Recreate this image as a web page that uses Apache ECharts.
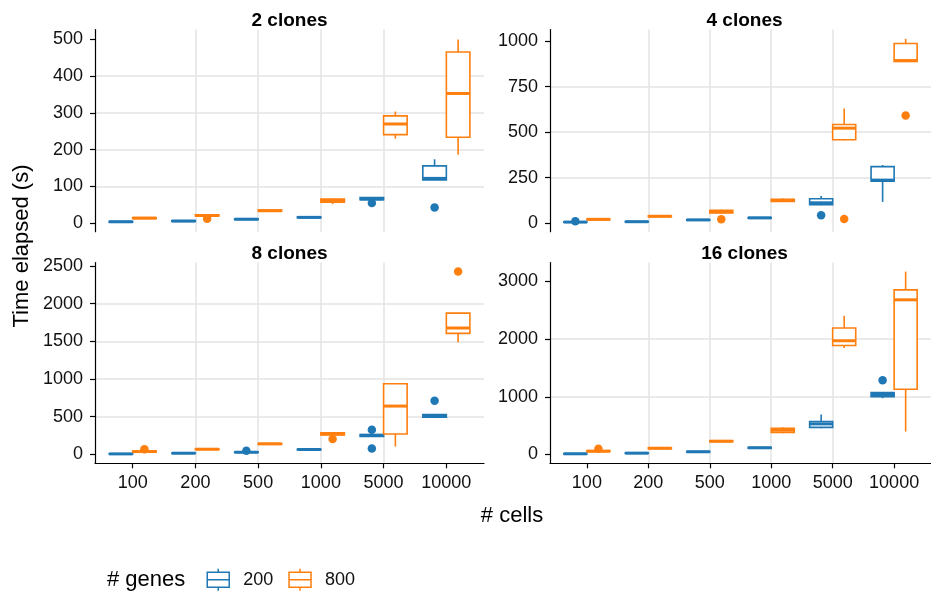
<!DOCTYPE html>
<html>
<head>
<meta charset="utf-8">
<title>Time elapsed by number of cells</title>
<script src="https://cdn.jsdelivr.net/npm/echarts@6/dist/echarts.min.js"></script>
<style>
  html, body { margin: 0; padding: 0; background: #fff; }
  #chart { width: 931px; height: 596px; }
</style>
</head>
<body>
<div id="chart"></div>
<script>
// Categories on the x axis (# cells)
const cells = ['100', '200', '500', '1000', '5000', '10000'];
const panelTitles = ['2 clones', '4 clones', '8 clones', '16 clones'];
const geneGroups = ['200', '800'];

// Box statistics per cell count: [lower whisker, Q1, median, Q3, upper whisker]
// Outliers: [cell index, value]

// 2 clones
const c2_g200 = [[2, 3, 4, 5, 6], [4, 5, 6, 7, 8], [9, 10, 11, 12, 13], [14, 15, 16, 17, 18], [62, 64, 66, 70, 71], [118, 118, 122, 156, 174]];
const c2_g800 = [[12, 13, 14, 15, 16], [18, 20, 21, 23, 24], [32, 33, 34, 36, 37], [52, 57, 62, 66, 67], [230, 241, 270, 292, 304], [186, 234, 353, 466, 500]];
const c2_g200_out = [[4, 55], [5, 43]];
const c2_g800_out = [[1, 12]];

// 4 clones
const c4_g200 = [[3, 4, 5, 6, 7], [5, 6, 7, 8, 9], [14, 15, 17, 18, 19], [25, 27, 28, 30, 31], [98, 100, 111, 133, 148], [116, 230, 236, 310, 319]];
const c4_g800 = [[17, 18, 20, 21, 22], [33, 35, 37, 39, 40], [50, 55, 62, 70, 73], [115, 118, 124, 130, 135], [456, 458, 522, 542, 630], [887, 889, 894, 988, 1014]];
const c4_g200_out = [[0, 9], [4, 43]];
const c4_g800_out = [[2, 20], [4, 22], [5, 592]];

// 8 clones
const c8_g200 = [[2, 3, 4, 5, 6], [10, 11, 13, 14, 15], [20, 23, 26, 29, 31], [55, 58, 62, 66, 68], [228, 236, 250, 262, 268], [480, 490, 505, 525, 535]];
const c8_g800 = [[25, 30, 35, 42, 48], [58, 62, 66, 70, 73], [128, 133, 137, 142, 146], [240, 255, 270, 285, 290], [101, 269, 639, 935, 935], [1486, 1605, 1676, 1874, 1874]];
const c8_g200_out = [[2, 45], [4, 326], [4, 75], [5, 710]];
const c8_g800_out = [[0, 66], [3, 203], [5, 2425]];

// 16 clones
const c16_g200 = [[6, 9, 12, 15, 18], [17, 20, 23, 26, 29], [38, 42, 47, 52, 56], [105, 110, 116, 122, 127], [455, 470, 531, 571, 692], [975, 1000, 1040, 1073, 1075]];
const c16_g800 = [[40, 50, 57, 66, 72], [95, 100, 109, 116, 122], [215, 222, 230, 238, 244], [368, 380, 420, 455, 470], [1846, 1891, 1972, 2192, 2405], [398, 1130, 2682, 2855, 3171]];
const c16_g200_out = [[5, 1286]];
const c16_g800_out = [[0, 98]];

// Y tick labels per panel
const c2_ticks = [0, 100, 200, 300, 400, 500];
const c4_ticks = [0, 250, 500, 750, 1000];
const c8_ticks = [0, 500, 1000, 1500, 2000, 2500];
const c16_ticks = [0, 1000, 2000, 3000];

const panels = [
  { g200: c2_g200, g800: c2_g800, o200: c2_g200_out, o800: c2_g800_out, ticks: c2_ticks, range: [-23, 527] },
  { g200: c4_g200, g800: c4_g800, o200: c4_g200_out, o800: c4_g800_out, ticks: c4_ticks, range: [-48, 1065] },
  { g200: c8_g200, g800: c8_g800, o200: c8_g200_out, o800: c8_g800_out, ticks: c8_ticks, range: [-121, 2546] },
  { g200: c16_g200, g800: c16_g800, o200: c16_g200_out, o800: c16_g800_out, ticks: c16_ticks, range: [-153, 3329] }
];

const FONT = '"Liberation Sans", Arial, Helvetica, sans-serif';
const BLUE = '#1F77B4';
const ORANGE = '#FF7F0E';
const GRIDLINE = '#E3E3E3';
const TEXT = '#111';

const gridBoxes = [
  { left: 95, top: 29.5, width: 389, height: 202.2 },
  { left: 550, top: 29.5, width: 389, height: 202.2 },
  { left: 95, top: 262.5, width: 389, height: 200.8 },
  { left: 550, top: 262.5, width: 389, height: 200.8 }
];
const titleCenters = [[289.5, 20.5], [744.5, 20.5], [289.5, 253.5], [744.5, 253.5]];

// Dodged boxes: each box is 0.375 category units wide
const BOX_W = 0.375;
const DODGE = BOX_W / 2;
const catIdx = [0, 1, 2, 3, 4, 5];

function boxRenderer(color) {
  return function (params, api) {
    const c = api.value(0);
    const lo = api.value(1), q1 = api.value(2), md = api.value(3), q3 = api.value(4), hi = api.value(5);
    const w = api.size([BOX_W, 0])[0];
    const pHi = api.coord([c, hi]);
    const pQ3 = api.coord([c, q3]);
    const pMd = api.coord([c, md]);
    const pQ1 = api.coord([c, q1]);
    const pLo = api.coord([c, lo]);
    const cx = pQ3[0];
    const x0 = cx - w / 2;
    return {
      type: 'group',
      children: [
        { type: 'line', shape: { x1: cx, y1: pHi[1], x2: cx, y2: pQ3[1] }, style: { stroke: color, lineWidth: 1.6 } },
        { type: 'line', shape: { x1: cx, y1: pQ1[1], x2: cx, y2: pLo[1] }, style: { stroke: color, lineWidth: 1.6 } },
        { type: 'rect', shape: { x: x0, y: pQ3[1], width: w, height: pQ1[1] - pQ3[1] }, style: { fill: '#fff', stroke: color, lineWidth: 1.6 } },
        { type: 'line', shape: { x1: x0, y1: pMd[1], x2: x0 + w, y2: pMd[1] }, style: { stroke: color, lineWidth: 3 } }
      ]
    };
  };
}

const grid = [], xAxis = [], yAxis = [], series = [];

panels.forEach(function (p, i) {
  const bottomRow = i >= 2;
  grid.push(Object.assign({ containLabel: false }, gridBoxes[i]));

  xAxis.push({
    gridIndex: i,
    type: 'value',
    min: -0.6,
    max: 5.6,
    axisLine: { show: bottomRow, onZero: false, lineStyle: { color: '#000', width: 1.2 } },
    axisTick: { show: bottomRow, customValues: catIdx, length: 5, lineStyle: { color: '#000', width: 1.2 } },
    axisLabel: {
      show: bottomRow, customValues: catIdx, margin: 11,
      formatter: function (v) { return cells[Math.round(v)]; },
      fontFamily: FONT, fontSize: 18, color: TEXT
    },
    splitLine: { show: true, showMinLine: false, showMaxLine: false, lineStyle: { color: GRIDLINE, width: 1.5 } }
  });

  yAxis.push({
    gridIndex: i,
    type: 'value',
    min: p.range[0],
    max: p.range[1],
    axisLine: { show: true, onZero: false, lineStyle: { color: '#000', width: 1.2 } },
    axisTick: { show: true, customValues: p.ticks, length: 5, lineStyle: { color: '#000', width: 1.2 } },
    axisLabel: {
      show: true, customValues: p.ticks, margin: 12,
      formatter: function (v) { return String(v); },
      fontFamily: FONT, fontSize: 18, color: TEXT
    },
    splitLine: { show: true, showMinLine: false, showMaxLine: false, lineStyle: { color: GRIDLINE, width: 1.5 } }
  });

  [[p.g200, p.o200, BLUE, -DODGE, '200'], [p.g800, p.o800, ORANGE, DODGE, '800']].forEach(function (g) {
    const stats = g[0], outs = g[1], color = g[2], dx = g[3], name = g[4];
    series.push({
      type: 'custom',
      name: name,
      xAxisIndex: i,
      yAxisIndex: i,
      itemStyle: { color: color },
      encode: { x: 0, y: [1, 2, 3, 4, 5] },
      renderItem: boxRenderer(color),
      data: stats.map(function (s, k) { return [k + dx].concat(s); }),
      silent: true
    });
    series.push({
      type: 'scatter',
      name: name,
      xAxisIndex: i,
      yAxisIndex: i,
      symbol: 'circle',
      symbolSize: 8.5,
      itemStyle: { color: color, opacity: 1 },
      data: outs.map(function (o) { return [o[0] + dx, o[1]]; }),
      silent: true,
      z: 3
    });
  });
});

// Box-and-whisker legend glyph (22 x 22)
const boxIcon = 'path://M0,3.5H22V18.5H0Z M0,11H22 M11,0V3.5 M11,18.5V22';

const graphic = panelTitles.map(function (t, i) {
  return {
    type: 'text', x: titleCenters[i][0], y: titleCenters[i][1],
    style: { text: t, font: 'bold 19px ' + FONT, fill: '#000', align: 'center', verticalAlign: 'middle' }
  };
});
graphic.push({
  type: 'text', x: 512, y: 516,
  style: { text: '# cells', font: '22px ' + FONT, fill: '#000', align: 'center', verticalAlign: 'middle' }
});
graphic.push({
  type: 'text', x: 22, y: 246, rotation: Math.PI / 2,
  style: { text: 'Time elapsed (s)', font: '22px ' + FONT, fill: '#000', align: 'center', verticalAlign: 'middle' }
});
graphic.push({
  type: 'text', x: 107, y: 580,
  style: { text: '# genes', font: '22px ' + FONT, fill: '#000', align: 'left', verticalAlign: 'middle' }
});

const chart = echarts.init(document.getElementById('chart'), null, { renderer: 'canvas' });
chart.setOption({
  backgroundColor: '#fff',
  animation: false,
  grid: grid,
  xAxis: xAxis,
  yAxis: yAxis,
  series: series,
  graphic: graphic,
  legend: {
    left: 201.5,
    top: 563,
    orient: 'horizontal',
    itemWidth: 22,
    itemHeight: 22,
    itemGap: 15,
    symbolKeepAspect: false,
    selectedMode: false,
    textStyle: { fontFamily: FONT, fontSize: 18, color: TEXT, padding: [0, 0, 0, 9] },
    data: [
      { name: geneGroups[0], icon: boxIcon, itemStyle: { color: '#fff', borderColor: BLUE, borderWidth: 1.5 } },
      { name: geneGroups[1], icon: boxIcon, itemStyle: { color: '#fff', borderColor: ORANGE, borderWidth: 1.5 } }
    ]
  }
});
</script>
</body>
</html>
